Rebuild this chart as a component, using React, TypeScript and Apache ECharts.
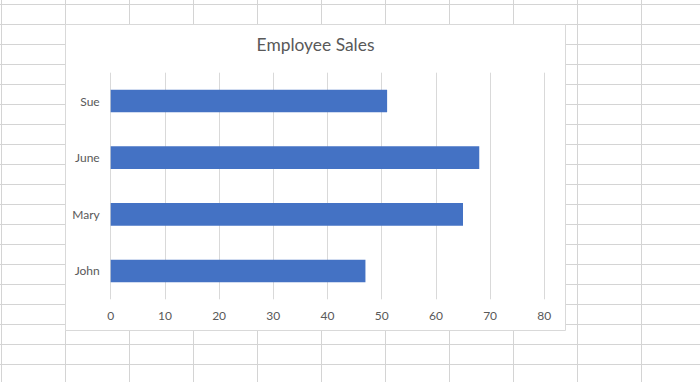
import React, { useEffect, useRef } from "react";
import * as echarts from "echarts";

const categories = ["John", "Mary", "June", "Sue"];
const sales = [47, 65, 68, 51];
const xTicks = { min: 0, max: 80, interval: 10 };
const title = "Employee Sales";

export default function App() {
  const ref = useRef<HTMLDivElement>(null);
  useEffect(() => {
    if (!ref.current) return;
    const chart = echarts.init(ref.current, null, { renderer: "svg" });
    const font = "Lato, 'Open Sans', sans-serif";
    chart.setOption({
      animation: false,
      backgroundColor: "transparent",
      textStyle: { fontFamily: font },
      graphic: [
        {
          type: "rect",
          z: -10,
          shape: { x: 65.5, y: 24.5, width: 500, height: 306 },
          style: { fill: "#ffffff", stroke: "#d9d9d9", lineWidth: 1 },
          silent: true,
        },
      ],
      title: {
        text: title,
        left: 315.5,
        top: 35.5,
        textAlign: "center",
        padding: 0,
        textStyle: {
          fontFamily: font,
          fontSize: 17.4,
          fontWeight: "normal",
          color: "#595959",
        },
      },
      grid: { left: 110.7, right: 155.7, top: 72.7, bottom: 82.7 },
      xAxis: {
        type: "value",
        min: xTicks.min,
        max: xTicks.max,
        interval: xTicks.interval,
        axisLine: { show: false },
        axisTick: { show: false },
        splitLine: { lineStyle: { color: "#d9d9d9", width: 1 } },
        axisLabel: { color: "#595959", fontSize: 12, margin: 10, fontFamily: font },
      },
      yAxis: {
        type: "category",
        data: categories,
        axisLine: { show: false },
        axisTick: { show: false },
        splitLine: { show: false },
        axisLabel: { color: "#595959", fontSize: 12, margin: 11, fontFamily: font },
      },
      series: [
        {
          type: "bar",
          data: sales,
          barCategoryGap: "60%",
          itemStyle: { color: "#4472C4" },
        },
      ],
    });
    return () => chart.dispose();
  }, []);

  return (
    <div
      style={{
        position: "absolute",
        left: 0,
        top: 0,
        width: 700,
        height: 382,
        backgroundColor: "#ffffff",
        backgroundImage:
          "linear-gradient(to right, #d4d4d4 1px, transparent 1px), linear-gradient(to bottom, #d4d4d4 1px, transparent 1px)",
        backgroundSize: "64px 20px",
        backgroundPosition: "1px 4px",
      }}
    >
      <div ref={ref} style={{ width: 700, height: 382 }} />
    </div>
  );
}
